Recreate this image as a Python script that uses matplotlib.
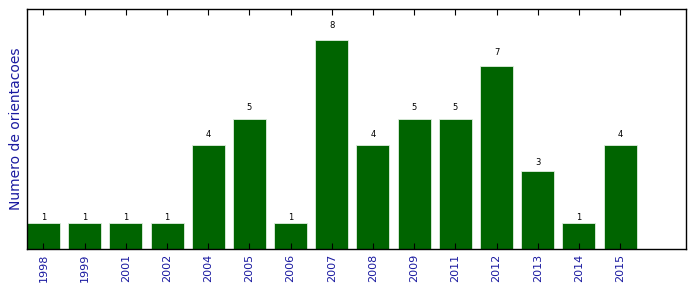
import numpy as np
import matplotlib
matplotlib.use("Agg")
from matplotlib import pyplot as plt

anos = ['1998', '1999', '2001', '2002', '2004', '2005', '2006', '2007',
        '2008', '2009', '2011', '2012', '2013', '2014', '2015']
orientacoes = [1, 1, 1, 1, 4, 5, 1, 8, 4, 5, 5, 7, 3, 1, 4]

fig = plt.figure(figsize=(6.96, 2.92), dpi=100)
ax = fig.add_axes([0.0388, 0.1473, 0.9468, 0.8217])

x = np.arange(len(anos))
bars = ax.bar(x, orientacoes, width=0.8, color='#006400', edgecolor='#dfeedf', linewidth=0.6)
for rect in bars:
    h = rect.get_height()
    ax.text(rect.get_x() + rect.get_width() / 2., 1.05 * h, '%d' % int(h),
            ha='center', va='bottom', fontsize=6)

ax.set_xlim(-0.4, 15.6)
ax.set_ylim(0, 9.2)
ax.set_xticks(x)
ax.set_xticklabels(anos, rotation=90, color='#1a1aa0', fontsize=8)
ax.set_yticks([])
ax.tick_params(axis='x', direction='in', top=True, bottom=True, length=4, width=0.8)
ax.set_ylabel('Numero de orientacoes', color='#1a1aa0', fontsize=10, labelpad=3)
for s in ax.spines.values():
    s.set_linewidth(1.0)

fig.savefig('out.png', dpi=100)
